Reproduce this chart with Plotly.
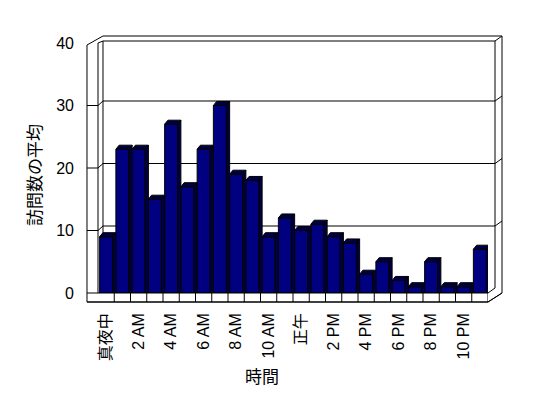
import plotly.graph_objects as go

# ---- data ----
hour_index = list(range(24))
avg_visits = [9, 23, 23, 15, 27, 17, 23, 30, 19, 18, 9, 12, 10, 11, 9, 8, 3, 5, 2, 1, 5, 1, 1, 7]
tick_positions = [0, 2, 4, 6, 8, 10, 12, 14, 16, 18, 20, 22]
tick_labels = ["真夜中", "2 AM", "4 AM", "6 AM", "8 AM", "10 AM", "正午", "2 PM", "4 PM", "6 PM", "8 PM", "10 PM"]
y_ticks = [0, 10, 20, 30, 40]

# ---- geometry (pixels, page coordinates) ----
OFF = 8  # default page body margin
W, H = 548 - OFF, 398 - OFF
PL, PR, PT, PB = 98, 488, 43, 293  # plot area in page pixels
FONT = "Noto Sans CJK JP"
TICKFONT = "Liberation Sans, Noto Sans CJK JP"
NAVY = "#000080"
DARK = "#000040"

def px(x):
    return (x - PL) / (PR - PL)

def py(y):
    return (PB - y) / (PB - PT)

def vy(v):
    return PB - v * (PB - PT) / 40.0

BAR_W = 0.8
DX = 0.2     # depth in category units
DY = 0.65    # depth in value units

fig = go.Figure()

fig.add_trace(go.Bar(
    x=hour_index, y=avg_visits, width=BAR_W,
    marker=dict(color=NAVY, line=dict(color="black", width=1)),
    showlegend=False, hoverinfo="skip"))

# 3D side and top faces derived from the data
for i, v in zip(hour_index, avg_visits):
    xl, xr = i - BAR_W / 2, i + BAR_W / 2
    fig.add_trace(go.Scatter(
        x=[xr, xr, xr + DX, xr + DX, xr],
        y=[0, v, v + DY, 0, 0],
        mode="lines", fill="toself", fillcolor=DARK,
        line=dict(color="black", width=1), showlegend=False, hoverinfo="skip"))
    fig.add_trace(go.Scatter(
        x=[xl, xl + DX, xr + DX, xr, xl],
        y=[v, v + DY, v + DY, v, v],
        mode="lines", fill="toself", fillcolor=DARK,
        line=dict(color="black", width=1), showlegend=False, hoverinfo="skip"))

shapes = []
LINE = dict(color="black", width=1)

def path(points, closed=False):
    s = "M " + " L ".join(f"{px(x):.5f},{py(y):.5f}" for x, y in points)
    return s + (" Z" if closed else "")

# outer box outline
shapes.append(dict(type="path", xref="paper", yref="paper", layer="below",
                   path=path([(87, 302), (488, 302), (502, 293), (502, 36), (103, 36), (87, 45)], True),
                   line=LINE, fillcolor="white"))
# inner edges
shapes.append(dict(type="path", xref="paper", yref="paper", layer="below",
                   path=path([(98, 293), (98, 43), (103, 41), (495, 41), (495, 288)]), line=LINE))
shapes.append(dict(type="path", xref="paper", yref="paper", layer="below",
                   path=path([(103, 41), (103, 289)]), line=LINE))
shapes.append(dict(type="path", xref="paper", yref="paper", layer="below",
                   path=path([(495, 41), (502, 36)]), line=LINE))
# floor front edge
shapes.append(dict(type="path", xref="paper", yref="paper", layer="above",
                   path=path([(98, 293), (488, 293), (495, 288)]), line=LINE))
shapes.append(dict(type="path", xref="paper", yref="paper", layer="above",
                   path=path([(87, 302), (488, 302), (502, 293)]), line=LINE))
for k in range(1, 25):
    shapes.append(dict(type="line", xref="x", yref="paper", layer="above",
                       x0=k - 0.5, x1=k - 0.5, y0=py(293), y1=py(302), line=LINE))

# gridlines on walls
for t in y_ticks[1:4]:
    yf = vy(t)
    yb = yf - 4.5
    shapes.append(dict(type="path", xref="paper", yref="paper", layer="below",
                       path=path([(87, yf), (98, yf), (103, yb), (495, yb), (502, yb - 5)]), line=LINE))
shapes.append(dict(type="path", xref="paper", yref="paper", layer="below",
                   path=path([(87, 293), (98, 293)]), line=LINE))

fig.update_layout(
    width=W, height=H,
    margin=dict(l=PL - OFF, r=W - (PR - OFF), t=PT - OFF, b=H - (PB - OFF), pad=0, autoexpand=False),
    paper_bgcolor="white", plot_bgcolor="rgba(0,0,0,0)",
    font=dict(family=FONT, size=16, color="black"),
    barmode="overlay",
    shapes=shapes,
    xaxis=dict(range=[-0.5, 23.5], tickmode="array", tickvals=tick_positions, ticktext=tick_labels,
               tickangle=-90, showgrid=False, zeroline=False, showline=False, ticks="",
               automargin=False, ticklabelstandoff=16, tickfont=dict(family=TICKFONT, size=16)),
    yaxis=dict(range=[0, 40], tickmode="array", tickvals=y_ticks, showgrid=False, zeroline=False,
               showline=False, ticks="", automargin=False, ticklabelstandoff=23,
               tickfont=dict(family=TICKFONT, size=16)),
    annotations=[
        dict(text="訪問数の平均", xref="paper", yref="paper", x=px(33), y=py(175), showarrow=False,
             textangle=-90, font=dict(family=FONT, size=17), xanchor="center", yanchor="middle"),
        dict(text="時間", xref="paper", yref="paper", x=px(262), y=py(375), showarrow=False,
             font=dict(family=FONT, size=17), xanchor="center", yanchor="middle"),
    ],
)

fig.write_html("out.html")
